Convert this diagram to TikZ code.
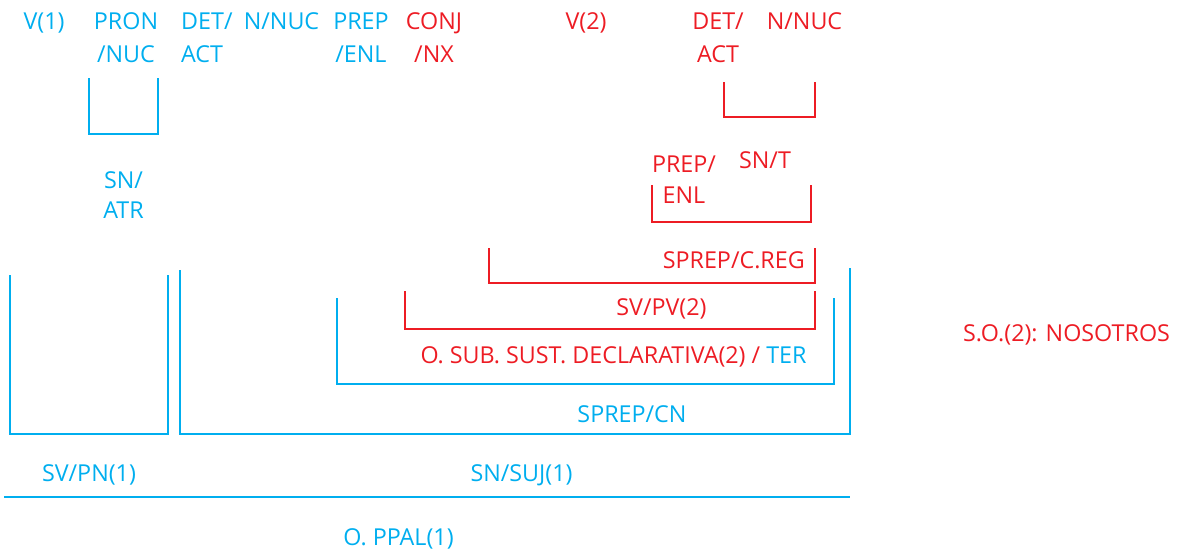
\documentclass[tikz,border=0pt]{standalone}
\usepackage{fontspec}
\setmainfont{Open Sans}
\usepackage{xcolor}
\usetikzlibrary{positioning}
\definecolor{azul}{HTML}{00AEEF}
\definecolor{rojo}{HTML}{ED1C24}

\begin{document}
\begin{tikzpicture}[x=1pt, y=-1pt,
    lbl/.style={inner sep=0pt, anchor=base, align=center, font=\fontsize{23.3}{33}\selectfont},
    brk/.style={line width=2.2pt}]
    \useasboundingbox (0,0) rectangle (1180,550);

    % Words (top row)
    \node[lbl, azul] (v1) at (44,29) {V(1)};
    \node[lbl, azul] (pron) at (126,62) {PRON\\/NUC};
    \node[lbl, azul, align=left, anchor=base west] (det1) at (181,62) {DET/\\ACT};
    \node[lbl, azul] (nuc1) at (281.5,29) {N/NUC};
    \node[lbl, azul] (prep1) at (361,62) {PREP\\/ENL};
    \node[lbl, rojo] (conj) at (434,62) {CONJ\\/NX};
    \node[lbl, rojo] (v2) at (586,29) {V(2)};
    \node[lbl, rojo] (det2) at (718,62) {DET/\\ACT};
    \node[lbl, rojo] (nuc2) at (804.5,29) {N/NUC};

    % Phrases
    \node[lbl, azul, font=\fontsize{23.3}{30}\selectfont] (snatr) at (123.5,218) {SN/\\ATR};
    \node[lbl, rojo, font=\fontsize{23.3}{31}\selectfont] (prep2) at (684,203) {PREP/\\ENL};
    \node[lbl, rojo] (snt) at (765,168) {SN/T};
    \node[lbl, rojo, anchor=base east] (creg) at (805,268) {SPREP/C.REG};
    \node[lbl, rojo] (svpv) at (661.5,315) {SV/PV(2)};
    \node[lbl, rojo] (osub) at (613.5,363) {O. SUB. SUST. DECLARATIVA(2) / \textcolor{azul}{TER}};
    \node[lbl, azul] (cn) at (632,422) {SPREP/CN};
    \node[lbl, azul] (svpn) at (89,481) {SV/PN(1)};
    \node[lbl, azul] (snsuj) at (521.5,481) {SN/SUJ(1)};
    \node[lbl, azul] (oppal) at (398.5,545) {O. PPAL(1)};
    \node[lbl, rojo] (so) at (1066.5,341) {S.O.(2): NOSOTROS};

    % Brackets
    \draw[brk, azul] (89,78) |- (158,134) -- (158,78);
    \draw[brk, rojo] (724,82) |- (815,117) -- (815,82);
    \draw[brk, rojo] (652,185) |- (811,222) -- (811,185);
    \draw[brk, rojo] (489,248) |- (815,283) -- (815,248);
    \draw[brk, rojo] (405,291) |- (815,329) -- (815,291);
    \draw[brk, azul] (337,298) |- (834,384) -- (834,298);
    \draw[brk, azul] (10,275) |- (168,434) -- (168,275);
    \draw[brk, azul] (180,270) |- (850,434) -- (850,268);
    \draw[brk, azul] (4,497) -- (850,497);
\end{tikzpicture}
\end{document}
